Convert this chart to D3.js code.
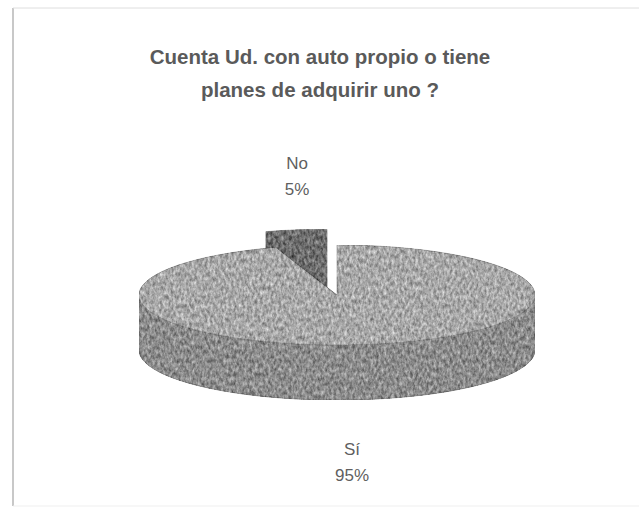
<!DOCTYPE html>
<html>
<head>
<meta charset="utf-8">
<script src="https://cdn.jsdelivr.net/npm/d3@7"></script>
<style>
  html, body { margin: 0; padding: 0; background: #fff; }
  svg { display: block; }
</style>
</head>
<body>
<svg id="chart" width="639" height="510"></svg>
<script>
// Survey answers
const categories = ["Sí", "No"];
const values = [95, 5];
const percentLabels = ["95%", "5%"];
const titleLines = ["Cuenta Ud. con auto propio o tiene", "planes de adquirir uno ?"];

const W = 639, H = 510;
const svg = d3.select("#chart");

// Mottled fill texture
const defs = svg.append("defs");
const grain = defs.append("filter").attr("id", "grain")
  .attr("x", "0%").attr("y", "0%").attr("width", "100%").attr("height", "100%")
  .attr("color-interpolation-filters", "sRGB");
grain.append("feTurbulence").attr("type", "fractalNoise")
  .attr("baseFrequency", "0.38 0.22").attr("numOctaves", 3).attr("seed", 7).attr("result", "noise");
grain.append("feColorMatrix").attr("in", "noise").attr("type", "matrix")
  .attr("values", "1 0 0 0 0  1 0 0 0 0  1 0 0 0 0  0 0 0 0 1").attr("result", "gray");
grain.append("feComposite").attr("in", "SourceGraphic").attr("in2", "gray")
  .attr("operator", "arithmetic").attr("k1", 0).attr("k2", 1).attr("k3", 0.6).attr("k4", -0.3)
  .attr("result", "mix");
grain.append("feGaussianBlur").attr("in", "mix").attr("stdDeviation", 0.45).attr("result", "soft");
grain.append("feComposite").attr("in", "soft").attr("in2", "SourceAlpha").attr("operator", "in");

// Frame
svg.append("line").attr("x1", 13).attr("y1", 8).attr("x2", 13).attr("y2", 506)
  .attr("stroke", "#ababab").attr("stroke-width", 1.3);
svg.append("line").attr("x1", 13).attr("y1", 8).attr("x2", W).attr("y2", 8)
  .attr("stroke", "#dedede").attr("stroke-width", 1);
svg.append("line").attr("x1", 13).attr("y1", 506).attr("x2", W).attr("y2", 506)
  .attr("stroke", "#efefef").attr("stroke-width", 1);

// Title
svg.append("g").selectAll("text").data(titleLines).join("text")
  .attr("x", 320).attr("y", (d, i) => 64 + i * 33)
  .attr("text-anchor", "middle")
  .attr("font-family", "Liberation Sans, Arial, sans-serif")
  .attr("font-weight", "bold").attr("font-size", 20.5)
  .attr("fill", "#5a5a5a")
  .text(d => d);

// 3D pie geometry (angles clockwise from 12 o'clock)
const cx = 337, cy = 295, rx = 198, ry = 50, depth = 55;
const explode = 0.32;

const pie = d3.pie().sort(null).value(d => d).startAngle(0).endAngle(2 * Math.PI);
const arcs = pie(values);

const px = (a, dx = 0) => cx + dx + rx * Math.sin(a);
const py = (a, dy = 0, h = 0) => cy + dy + h - ry * Math.cos(a);

function ellipseArc(a0, a1, dx, dy, h, step = 0.01) {
  const n = Math.max(2, Math.ceil(Math.abs(a1 - a0) / step));
  return d3.range(n + 1).map(i => {
    const a = a0 + (a1 - a0) * i / n;
    return [px(a, dx), py(a, dy, h)];
  });
}
const line = d3.line();

const topFill = ["#a8a8a8", "#6e6e6e"];
const sideFill = ["#8c8c8c", "#626262"];
const faceFill = ["#7f7f7f", "#6a6a6a"];

const g = svg.append("g");

// Offsets of each slice (only the small slice is pulled out)
const offsets = arcs.map((d, i) => {
  if (i === 0) return [0, 0];
  const m = (d.startAngle + d.endAngle) / 2;
  return [rx * explode * Math.sin(m), -ry * explode * Math.cos(m)];
});

// Draw the pulled-out slice first, since it sits behind
const order = [1, 0];
order.forEach(i => {
  const d = arcs[i];
  const [dx, dy] = offsets[i];
  const a0 = d.startAngle, a1 = d.endAngle;
  const tip = [cx + dx, cy + dy];
  const slice = g.append("g").attr("filter", "url(#grain)");

  // Radial faces pointing toward the viewer
  [a0, a1].forEach((a, k) => {
    const normal = k === 0 ? a - Math.PI / 2 : a + Math.PI / 2;
    if (Math.cos(normal) < -0.01) {
      const pts = [tip, [px(a, dx), py(a, dy)], [px(a, dx), py(a, dy, depth)], [tip[0], tip[1] + depth]];
      slice.append("path").attr("d", line(pts) + "Z")
        .attr("fill", faceFill[i]).attr("stroke", "#6d6d6d").attr("stroke-width", 0.6);
    }
  });

  // Outer wall, front half only
  const w0 = Math.max(a0, Math.PI / 2), w1 = Math.min(a1, 3 * Math.PI / 2);
  if (w1 > w0) {
    const topEdge = ellipseArc(w0, w1, dx, dy, 0);
    const botEdge = ellipseArc(w1, w0, dx, dy, depth);
    slice.append("path").attr("d", line(topEdge.concat(botEdge)) + "Z")
      .attr("fill", sideFill[i]).attr("stroke", "#6f6f6f").attr("stroke-width", 0.8);
  }

  // Top surface
  const rim = ellipseArc(a0, a1, dx, dy, 0);
  slice.append("path").attr("d", line([tip].concat(rim)) + "Z")
    .attr("fill", topFill[i]).attr("stroke", "#7a7a7a").attr("stroke-width", 0.6);
});

// Data labels
const labelPos = [[352, 455], [297, 169]];
const lab = svg.append("g")
  .attr("font-family", "Liberation Sans, Arial, sans-serif")
  .attr("font-size", 17).attr("fill", "#5f5f5f").attr("text-anchor", "middle");
categories.forEach((c, i) => {
  lab.append("text").attr("x", labelPos[i][0]).attr("y", labelPos[i][1]).text(c);
  lab.append("text").attr("x", labelPos[i][0]).attr("y", labelPos[i][1] + 26).text(percentLabels[i]);
});
</script>
</body>
</html>
